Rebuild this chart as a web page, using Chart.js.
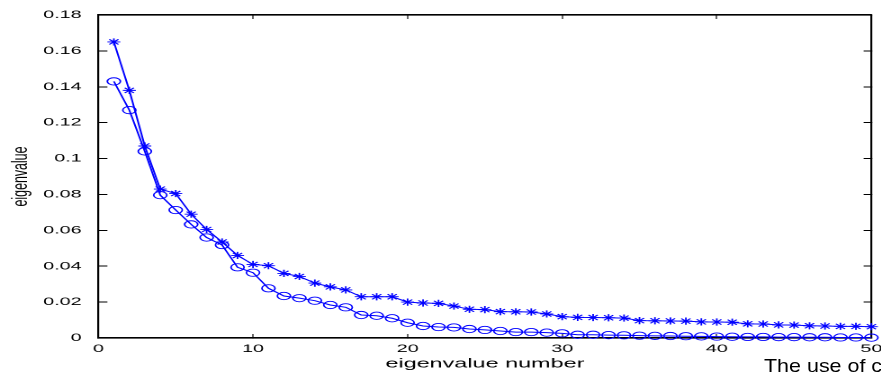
<!DOCTYPE html>
<html lang="en">
<head>
  <meta charset="UTF-8">
  <title>Eigenvalue spectrum</title>
  <script src="https://cdn.jsdelivr.net/npm/chart.js"></script>
  <style>
    html, body { margin:0; padding:0; background:#fff; overflow:hidden; width:881px; height:375px; }
    /* the original figure is stretched sideways, so draw narrow and scale it */
    #wrap { position:absolute; left:0; top:0; width:490px; height:375px; transform:scaleX(1.8); transform-origin:0 0; }
    #note { position:absolute; left:764px; top:357px; font-family:"Liberation Sans", Arial, sans-serif; font-size:18.5px; line-height:18.5px;
            white-space:nowrap; color:#000; transform:scaleX(1.16); transform-origin:0 0; }
  </style>
</head>
<body>
  <div id="wrap"><canvas id="eigChart" width="490" height="375"></canvas></div>
  <div id="note">The use of c</div>

  <script>
    // eigenvalue number
    const rank = [1,2,3,4,5,6,7,8,9,10,11,12,13,14,15,16,17,18,19,20,21,22,23,24,25,
                  26,27,28,29,30,31,32,33,34,35,36,37,38,39,40,41,42,43,44,45,46,47,48,49,50];
    // '*' series
    const starVals = [0.165,0.138,0.107,0.083,0.0805,0.069,0.0605,0.0535,0.046,0.041,
                      0.0403,0.036,0.0343,0.0306,0.0285,0.0268,0.023,0.023,0.023,0.020,
                      0.0195,0.0193,0.0178,0.016,0.0158,0.0147,0.0146,0.0145,0.0134,0.0119,
                      0.0115,0.0114,0.0113,0.0111,0.0097,0.0096,0.0095,0.0094,0.0090,0.0089,
                      0.0088,0.0079,0.0078,0.0073,0.0072,0.0068,0.0067,0.0065,0.0065,0.0063];
    // 'o' series
    const circleVals = [0.143,0.127,0.104,0.0796,0.0713,0.0633,0.056,0.0518,0.0394,0.0364,
                        0.0277,0.0234,0.0222,0.0208,0.0184,0.0171,0.0128,0.0124,0.011,0.0085,
                        0.0067,0.0061,0.0059,0.005,0.0045,0.0039,0.0033,0.0033,0.003,0.0026,
                        0.0018,0.0018,0.0016,0.0015,0.0013,0.0012,0.0011,0.001,0.0009,0.0008,
                        0.0007,0.0006,0.0006,0.0005,0.0005,0.0004,0.0004,0.0003,0.0003,0.0002];
    const xTicks = [0,10,20,30,40,50];
    const yTicks = [0,0.02,0.04,0.06,0.08,0.1,0.12,0.14,0.16,0.18];
    const xTitle = 'eigenvalue number';
    const yTitle = 'eigenvalue';

    // plot box in canvas units (before the sideways stretch)
    const W = 490, H = 375;
    const boxLeft = 54.67, boxRight = 484.1, boxTop = 15, boxBottom = 338;

    const fontFam = '"Liberation Sans", Arial, Helvetica, sans-serif';
    const blue = '#0000ff';

    function setTicks(list) {
      return function (scale) { scale.ticks = list.map(v => ({ value: v })); };
    }
    function setSize(prop, val) {
      return function (scale) {
        scale[prop] = val;
        scale.paddingLeft = 0; scale.paddingRight = 0;
        scale.paddingTop = 0; scale.paddingBottom = 0;
      };
    }
    function yLabel(v) { return String(+Number(v).toFixed(2)); }

    const ctx = document.getElementById('eigChart').getContext('2d');
    new Chart(ctx, {
      type: 'line',
      data: {
        datasets: [
          {
            label: 'o',
            data: rank.map((r, i) => ({ x: r, y: circleVals[i] })),
            borderColor: blue, borderWidth: 1,
            pointStyle: 'circle', pointRadius: 3.65,
            pointBorderColor: blue, pointBackgroundColor: 'rgba(0,0,0,0)', pointBorderWidth: 0.9,
            tension: 0, clip: false
          },
          {
            label: '*',
            data: rank.map((r, i) => ({ x: r, y: starVals[i] })),
            borderColor: blue, borderWidth: 1,
            pointStyle: 'star', pointRadius: 3.6,
            pointBorderColor: blue, pointBackgroundColor: blue, pointBorderWidth: 0.9,
            tension: 0, clip: false
          }
        ]
      },
      options: {
        responsive: false,
        animation: false,
        devicePixelRatio: 2,
        layout: { padding: { left: 0, top: boxTop, right: W - boxRight, bottom: 0 } },
        plugins: { legend: { display: false }, tooltip: { enabled: false } },
        scales: {
          x: {
            type: 'linear', position: 'bottom', min: 0, max: 50,
            afterBuildTicks: setTicks(xTicks),
            afterFit: setSize('height', H - boxBottom),
            border: { display: true, color: '#000', width: 1.6 },
            grid: { drawOnChartArea: false, color: '#000', lineWidth: 0.6, tickLength: -4 },
            ticks: { color: '#000', padding: 8.6, maxRotation: 0, font: { family: fontFam, size: 11 },
                     callback: v => String(v) },
            title: { display: true, text: xTitle, color: '#000', font: { family: fontFam, size: 13 },
                     padding: { top: 0, bottom: 3.4 } }
          },
          x2: {
            type: 'linear', position: 'top', min: 0, max: 50,
            afterBuildTicks: setTicks(xTicks),
            afterFit: setSize('height', 0),
            border: { display: true, color: '#000', width: 1.6 },
            grid: { drawOnChartArea: false, color: '#000', lineWidth: 0.6, tickLength: -4 },
            ticks: { display: false }
          },
          y: {
            type: 'linear', position: 'left', min: 0, max: 0.18,
            afterBuildTicks: setTicks(yTicks),
            afterFit: setSize('width', boxLeft),
            border: { display: true, color: '#000', width: 1.1 },
            grid: { drawOnChartArea: false, color: '#000', lineWidth: 1, tickLength: -5 },
            ticks: { color: '#000', padding: 14.3, font: { family: fontFam, size: 11 }, callback: yLabel },
            title: { display: true, text: yTitle, color: '#000', font: { family: fontFam, size: 12.4 },
                     padding: { top: 4, bottom: 0 } }
          },
          y2: {
            type: 'linear', position: 'right', min: 0, max: 0.18,
            afterBuildTicks: setTicks(yTicks),
            afterFit: setSize('width', 0),
            border: { display: true, color: '#000', width: 1.1 },
            grid: { drawOnChartArea: false, color: '#000', lineWidth: 1, tickLength: -4.3 },
            ticks: { display: false }
          }
        }
      }
    });
  </script>
</body>
</html>
